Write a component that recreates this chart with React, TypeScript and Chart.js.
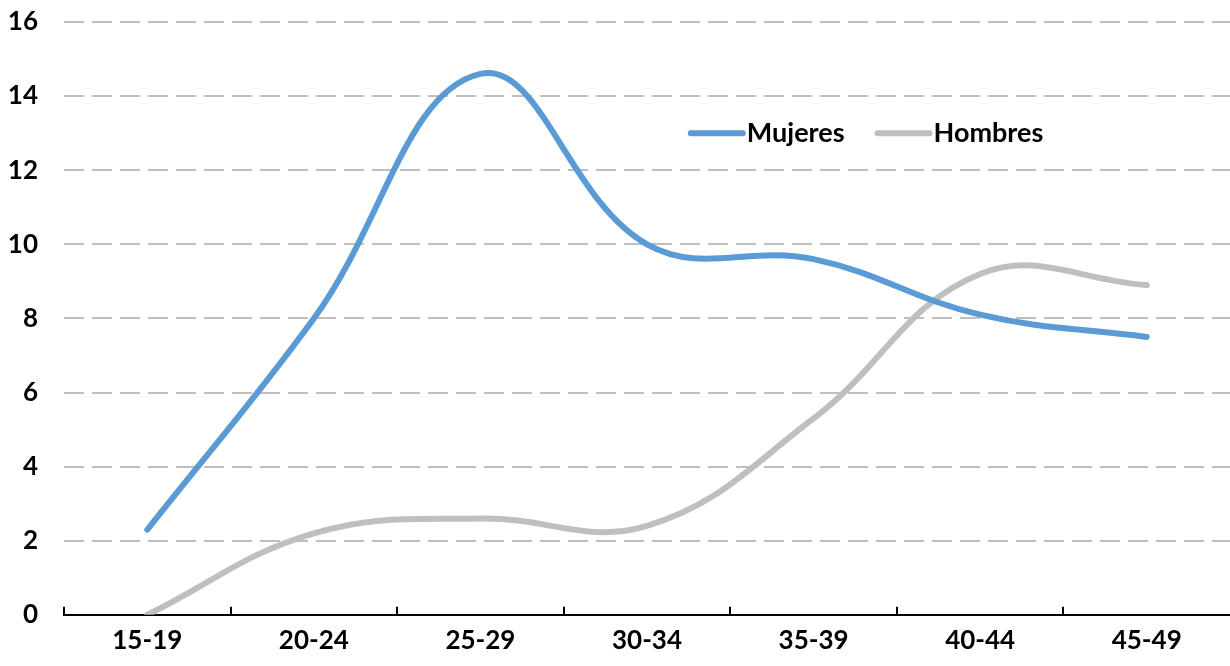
import React, { useEffect, useRef } from "react";
import { Chart, registerables } from "chart.js";

Chart.register(...registerables);

const categories = ["15-19", "20-24", "25-29", "30-34", "35-39", "40-44", "45-49"];
const mujeres = [2.3, 8.0, 14.6, 10.0, 9.6, 8.1, 7.5];
const hombres = [0.0, 2.2, 2.6, 2.4, 5.3, 9.2, 8.9];
const yTicks = [0, 2, 4, 6, 8, 10, 12, 14, 16];

const BLUE = "#5B9BD5";
const GREY = "#BFBFBF";
const FONT = "Lato, 'Open Sans', sans-serif";

const innerTicks = {
  id: "innerTicks",
  afterDatasetsDraw(chart: any) {
    const { ctx, chartArea, scales } = chart;
    const x = scales.x;
    const n = categories.length;
    ctx.save();
    ctx.strokeStyle = "#000";
    ctx.lineWidth = 2;
    for (let i = 0; i < n; i++) {
      const px = i === 0 ? chartArea.left : (x.getPixelForValue(i - 1) + x.getPixelForValue(i)) / 2;
      ctx.beginPath();
      ctx.moveTo(Math.round(px), chartArea.bottom - 8);
      ctx.lineTo(Math.round(px), chartArea.bottom);
      ctx.stroke();
    }
    ctx.restore();
  },
};

const innerLegend = {
  id: "innerLegend",
  afterDraw(chart: any) {
    const { ctx, chartArea, scales } = chart;
    const y = scales.y.getPixelForValue(13.0);
    const x0 = chartArea.left + (chartArea.right - chartArea.left) * 0.535;
    const items = [
      { label: "Mujeres", color: BLUE },
      { label: "Hombres", color: GREY },
    ];
    ctx.save();
    ctx.font = `bold 27px ${FONT}`;
    ctx.textBaseline = "middle";
    ctx.textAlign = "left";
    let x = x0;
    for (const it of items) {
      ctx.strokeStyle = it.color;
      ctx.lineWidth = 6;
      ctx.lineCap = "round";
      ctx.beginPath();
      ctx.moveTo(x + 3, y);
      ctx.lineTo(x + 55, y);
      ctx.stroke();
      ctx.fillStyle = "#000";
      ctx.fillText(it.label, x + 59, y);
      x += 59 + ctx.measureText(it.label).width + 30;
    }
    ctx.restore();
  },
};

export default function App() {
  const ref = useRef<HTMLCanvasElement>(null);
  useEffect(() => {
    document.body.style.margin = "0";
    const chart = new Chart(ref.current!, {
      type: "line",
      data: {
        labels: categories,
        datasets: [
          {
            label: "Mujeres",
            data: mujeres,
            borderColor: BLUE,
            borderWidth: 6,
            borderCapStyle: "round",
            tension: 0.4,
            pointRadius: 0,
            fill: false,
          },
          {
            label: "Hombres",
            data: hombres,
            borderColor: GREY,
            borderWidth: 6,
            borderCapStyle: "round",
            tension: 0.4,
            pointRadius: 0,
            fill: false,
          },
        ],
      },
      options: {
        animation: false,
        responsive: false,
        maintainAspectRatio: false,
        layout: { padding: { top: 22, right: 0, left: 0, bottom: 0 } },
        plugins: { legend: { display: false }, tooltip: { enabled: false } },
        scales: {
          x: {
            offset: true,
            grid: { display: false, offset: true, drawTicks: false, tickLength: 0 },
            border: { display: true, color: "#000", width: 2 },
            ticks: {
              color: "#000",
              font: { family: FONT, size: 26, weight: "bold" },
              padding: 10,
              maxRotation: 0,
            },
          },
          y: {
            min: 0,
            max: 16,
            afterFit: (s: any) => {
              s.width = 64;
              s.paddingTop = 0;
            },
            afterBuildTicks: (s: any) => {
              s.ticks = yTicks.map((v) => ({ value: v }));
            },
            grid: {
              color: (c: any) => (c.tick && c.tick.value === 0 ? "rgba(0,0,0,0)" : GREY),
              lineWidth: 2,
              drawTicks: false,
            },
            border: { display: false, dash: [20, 8] },
            ticks: {
              color: "#000",
              font: { family: FONT, size: 26, weight: "bold" },
              padding: 26,
            },
          },
        },
      },
      plugins: [innerTicks, innerLegend],
    });
    return () => chart.destroy();
  }, []);
  return <canvas ref={ref} width={1230} height={666} style={{ display: "block" }} />;
}
